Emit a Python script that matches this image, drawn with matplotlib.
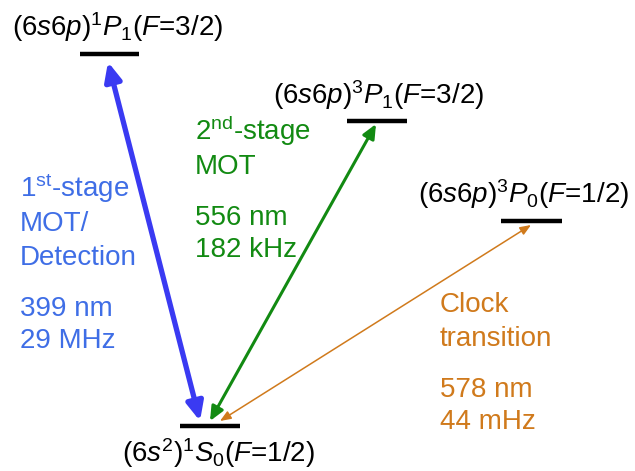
import matplotlib
matplotlib.use("Agg")
import matplotlib.pyplot as plt

plt.rcParams["font.family"] = "Liberation Sans"
plt.rcParams["mathtext.fontset"] = "custom"
plt.rcParams["mathtext.rm"] = "Liberation Sans"
plt.rcParams["mathtext.it"] = "Liberation Sans:italic"
plt.rcParams["mathtext.bf"] = "Liberation Sans:bold"

# Yb-171 energy levels
level_names = ["1S0", "1P1", "3P1", "3P0"]
level_labels = [
    r"($\mathit{6s}^{2}$)$^{1}\mathit{S}_{0}$($\mathit{F}$=1/2)",
    r"($\mathit{6s6p}$)$^{1}\mathit{P}_{1}$($\mathit{F}$=3/2)",
    r"($\mathit{6s6p}$)$^{3}\mathit{P}_{1}$($\mathit{F}$=3/2)",
    r"($\mathit{6s6p}$)$^{3}\mathit{P}_{0}$($\mathit{F}$=1/2)",
]

# transitions out of the ground state
transition_upper = ["1P1", "3P1", "3P0"]
transition_use = [
    [r"1$^{\mathrm{st}}$-stage", "MOT/", "Detection"],
    [r"2$^{\mathrm{nd}}$-stage", "MOT"],
    ["Clock", "transition"],
]
wavelength_nm = [399, 556, 578]
linewidth_txt = ["29 MHz", "182 kHz", "44 mHz"]

# drawing layout (pixel coordinates)
level_bar = {"1S0": (180, 240, 426), "1P1": (80, 139, 54),
             "3P1": (347, 407, 121), "3P0": (501, 562, 221)}
label_pos = {"1S0": (122, 462), "1P1": (12, 36), "3P1": (273, 104), "3P0": (418, 203)}
arrow_ends = [((200, 421), (108, 62)), ((210, 421), (376, 124)), ((220, 421), (531, 225))]
arrow_color = ["#3a3af2", "#128a12", "#d07a1c"]
text_color = ["#3f6ee6", "#128a12", "#d07a1c"]
arrow_lw = [3.8, 2.2, 1.1]
arrow_head = [(11, 5.0), (8.5, 3.8), (6.5, 2.6)]
text_x = [20, 195, 440]
text_top = [197, 140, 312]
line_gap = 34

fig = plt.figure(figsize=(6.35, 4.71), dpi=100)
ax = fig.add_axes([0, 0, 1, 1])
ax.set_xlim(0, 635)
ax.set_ylim(471, 0)
ax.axis("off")

for name, lab in zip(level_names, level_labels):
    x0, x1, y = level_bar[name]
    ax.plot([x0, x1], [y, y], color="black", lw=3.2, solid_capstyle="butt")
    lx, ly = label_pos[name]
    ax.text(lx, ly, lab, fontsize=20, ha="left", va="baseline", color="black")

for i in range(len(transition_upper)):
    (xa, ya), (xb, yb) = arrow_ends[i]
    hl, hw = arrow_head[i]
    ax.annotate("", xy=(xb, yb), xytext=(xa, ya),
                arrowprops=dict(arrowstyle=f"<|-|>,head_length={hl},head_width={hw}",
                                mutation_scale=1, color=arrow_color[i], lw=arrow_lw[i],
                                shrinkA=0, shrinkB=0))
    lines = transition_use[i]
    y = text_top[i]
    for ln in lines:
        ax.text(text_x[i], y, ln, fontsize=20, color=text_color[i], ha="left", va="baseline")
        y += line_gap
    y += 17
    ax.text(text_x[i], y, f"{wavelength_nm[i]} nm", fontsize=20, color=text_color[i],
            ha="left", va="baseline")
    ax.text(text_x[i], y + line_gap - 2, linewidth_txt[i], fontsize=20, color=text_color[i],
            ha="left", va="baseline")

fig.savefig("out.png", dpi=100, facecolor="white")
